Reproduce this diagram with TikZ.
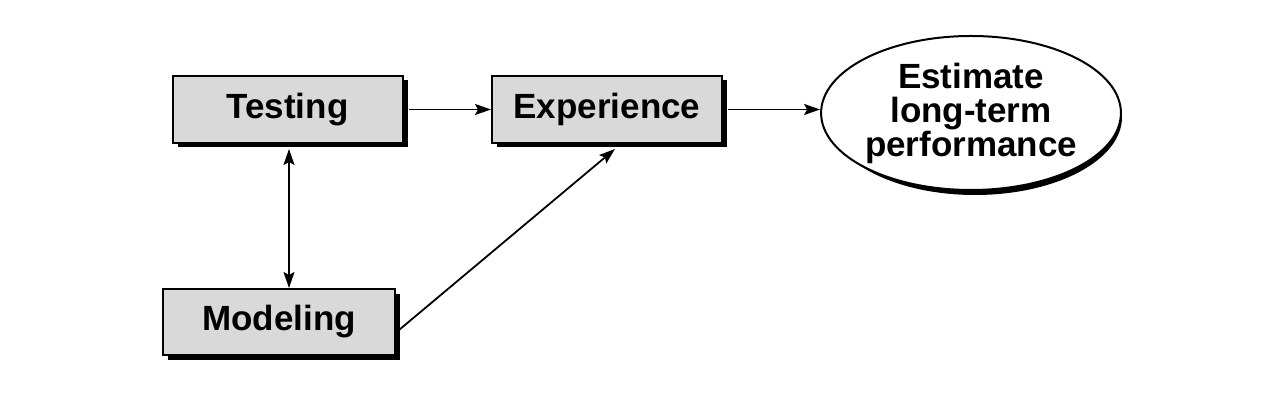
\documentclass[tikz,border=0pt]{standalone}
\usepackage{fontspec}
\setmainfont{Liberation Sans}
\usetikzlibrary{arrows.meta,calc,shapes.geometric}
\begin{document}
\begin{tikzpicture}[x=1pt,y=1pt,
  boxnode/.style={draw=black,line width=2pt,fill=black!15,minimum width=230pt,minimum height=67pt,inner sep=0pt,font=\fontsize{35}{35}\selectfont\bfseries},
  ovalnode/.style={draw=black,line width=2pt,fill=white,ellipse,minimum width=292pt,minimum height=154pt,inner sep=0pt,align=center,font=\fontsize{35}{34}\selectfont\bfseries},
  arr/.style={line width=1.8pt,-{Stealth[length=16pt,width=11pt,inset=3pt]}},
  darr/.style={line width=1.8pt,{Stealth[length=16pt,width=11pt,inset=3pt]}-{Stealth[length=16pt,width=11pt,inset=3pt]}}
]
\useasboundingbox (0,0) rectangle (1287,411);
% shadows
\fill[black] (177.5,264) rectangle (407.5,331);
\fill[black] (497,264) rectangle (727,331);
\fill[black] (168,51) rectangle (400,117);
\fill[black] (975,294) ellipse [x radius=147pt, y radius=78pt];
% nodes
\node[boxnode] (T) at (287.5,301.5) {Testing};
\node[boxnode] (E) at (607,301.5) {Experience};
\node[boxnode,minimum width=232pt,minimum height=66pt] (M) at (279,89) {Modeling};
\node[ovalnode] (L) at (971,298) {Estimate\\long-term\\performance};
% connectors
\draw[arr] ([xshift=5pt]T.east) -- (E.west);
\draw[arr] ([xshift=5pt]E.east) -- (E.east -| L.west);
\draw[darr] ($(T.south)+(1.5,-5)$) -- ($(M.north -| T.south)+(1.5,0)$);
\draw[arr] ($(M.east)+(3,-8)$) -- ($(E.south)+(8,-5)$);
\end{tikzpicture}
\end{document}
